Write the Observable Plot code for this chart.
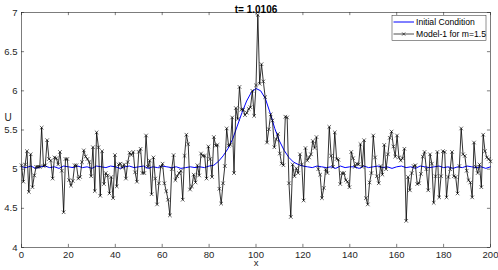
<!DOCTYPE html>
<html><head><meta charset="utf-8">
<script src="https://cdn.jsdelivr.net/npm/d3@7"></script>
<script src="https://cdn.jsdelivr.net/npm/@observablehq/plot@0.6"></script>
<style>
body{margin:0;background:#fff;}
#chart{position:relative;width:498px;height:270px;}
</style></head><body><div id="chart"></div>
<script>
const titleText = "t= 1.0106";
const xLabel = "x";
const yLabel = "U";
const seriesNames = ["Initial Condition", "Model-1 for m=1.5"];
const xTicks = [0, 20, 40, 60, 80, 100, 120, 140, 160, 180, 200];
const yTicks = [4, 4.5, 5, 5.5, 6, 6.5, 7];

// Model-1 solution, 257 grid points on [0, 200]
const modelStep = 200 / 256;
const modelU = [
5.05,4.84,5.06,5.23,4.71,5.19,4.77,4.92,5.03,5.03,
5.03,5.53,5.04,5.05,5.37,5.13,5.11,4.88,5.15,5.14,
5.06,5.22,4.98,4.45,5.13,5.13,4.86,4.79,4.85,5.05,
5.05,4.88,4.90,5.09,5.24,5.16,5.13,5.09,4.91,5.28,
4.72,5.47,5.28,4.66,5.23,4.81,4.95,4.92,4.69,4.90,
4.63,5.18,4.78,5.06,5.07,5.02,5.06,4.88,5.09,5.21,
5.18,5.22,4.96,4.84,5.22,5.26,4.95,4.95,5.43,5.03,
5.11,4.68,5.15,4.88,4.55,4.82,5.03,5.07,4.82,4.72,
4.61,4.41,
5.00,5.18,4.86,4.91,4.95,4.98,4.61,5.17,5.44,5.32,
4.74,4.78,4.93,4.83,5.05,4.92,5.20,5.17,5.17,4.88,
5.29,5.13,4.90,5.41,5.30,5.31,4.75,4.56,4.82,5.04,
5.52,5.30,5.31,5.66,4.95,5.78,5.64,6.05,5.76,5.76,
5.69,5.72,5.77,5.79,6.00,5.68,6.07,6.97,
6.09,6.34,6.12,5.92,5.34,5.51,5.70,5.62,5.28,5.38,
5.45,5.20,5.07,5.05,5.67,5.66,4.82,4.39,5.06,4.91,
5.01,4.95,5.19,5.06,4.60,5.27,5.11,5.15,5.19,5.36,
5.27,5.41,5.00,4.93,4.63,4.76,5.00,4.95,
5.54,5.17,5.03,5.47,5.13,5.12,4.81,4.95,4.95,4.86,
4.84,4.77,5.22,5.14,5.03,5.07,5.06,5.32,5.03,5.37,
4.63,4.55,4.83,4.95,5.43,5.15,4.91,4.82,5.04,4.93,
5.31,5.00,5.19,5.40,5.48,5.29,5.16,5.43,5.15,5.11,
5.14,5.26,4.34,4.90,4.73,4.95,5.04,5.05,4.81,4.82,
4.94,5.16,5.22,5.00,4.73,5.19,5.07,4.57,4.91,5.22,
4.64,4.91,5.23,5.22,4.64,4.90,5.00,5.22,4.91,4.90,
4.69,5.04,5.52,5.19,5.17,4.98,4.86,4.83,4.64,5.34,
5.03,4.95,5.06,4.77,5.44,5.23,5.15,5.13,5.10
];

// Initial condition, sampled every 2 units on [0, 200]
const initStep = 2;
const initU = [
5.03,5.02,5.04,5.01,5.03,5.04,5.02,5.03,5.01,5.04,
5.03,5.02,5.04,5.02,5.03,5.01,5.04,5.03,5.02,5.04,
5.03,5.01,5.03,5.04,5.02,5.03,5.04,5.01,5.03,5.02,
5.04,5.03,5.02,5.03,5.01,5.02,5.03,5.02,5.03,5.02,
5.04,5.05,5.10,5.17,5.26,5.38,5.55,5.72,5.87,5.98,
6.03,6.00,5.90,5.72,5.52,5.36,5.24,5.15,5.09,5.06,
5.04,
5.03,5.02,5.04,5.03,5.02,5.03,5.01,5.04,5.02,5.03,
5.03,5.01,5.04,5.02,5.03,5.04,5.02,5.03,5.01,5.03,
5.04,5.02,5.03,5.01,5.04,5.03,5.02,5.03,5.04,5.02,
5.03,5.01,5.03,5.02,5.04,5.03,5.02,5.03,5.01,5.03
];

const modelData = modelU.map((u, i) => ({x: i * modelStep, u}));
const initData = initU.map((u, i) => ({x: i * initStep, u}));

const axisColor = "#262626";
const font = "'Liberation Sans', Arial, Helvetica, sans-serif";
const tickLenY = 0.04;   // in y units (~3px)
const tickLenX = 1.3;    // in x units (~3px)

const chart = Plot.plot({
  width: 498, height: 270,
  marginLeft: 21, marginRight: 8, marginTop: 12, marginBottom: 23,
  x: {domain: [0, 200]},
  y: {domain: [4, 7]},
  style: {fontFamily: font, fontSize: "9.5px", color: axisColor, background: "white"},
  marks: [
    Plot.axisX(xTicks, {anchor: "bottom", tickSize: 0, tickPadding: 3.5, label: null, fill: axisColor, fontSize: 9.5}),
    Plot.axisY(yTicks, {anchor: "left", tickSize: 0, tickPadding: 4, label: null, fill: axisColor, fontSize: 9.5,
      tickFormat: d => String(d)}),
    Plot.ruleX(xTicks, {x: d => d, y1: 4, y2: 4 + tickLenY, stroke: axisColor, strokeWidth: 0.6}),
    Plot.ruleX(xTicks, {x: d => d, y1: 7, y2: 7 - tickLenY, stroke: axisColor, strokeWidth: 0.6}),
    Plot.ruleY(yTicks, {y: d => d, x1: 0, x2: tickLenX, stroke: axisColor, strokeWidth: 0.6}),
    Plot.ruleY(yTicks, {y: d => d, x1: 200, x2: 200 - tickLenX, stroke: axisColor, strokeWidth: 0.6}),
    Plot.line(initData, {x: "x", y: "u", stroke: "#0000ff", strokeWidth: 1}),
    Plot.line(modelData, {x: "x", y: "u", stroke: "#000", strokeWidth: 0.8}),
    Plot.dot(modelData, {x: "x", y: "u", symbol: "times", r: 1.8, stroke: "#000", strokeWidth: 0.6}),
    Plot.frame({stroke: axisColor, strokeWidth: 0.6}),
    Plot.text([titleText], {frameAnchor: "top", dy: -6.5, fontWeight: "bold", fontSize: 10, fill: "#000"}),
    Plot.text([xLabel], {frameAnchor: "bottom", dy: 18, fontSize: 9.5, fill: axisColor}),
    Plot.text([yLabel], {frameAnchor: "left", dx: -17, dy: -12.5, fontSize: 10, fill: axisColor})
  ]
});
document.getElementById("chart").appendChild(chart);

// Legend box (top-right inside frame)
const svg = d3.select(chart);
const lg = {right: 486, top: 15.5, w: 94, h: 25, fs: 8.6};
const g = svg.append("g").attr("font-family", font).attr("font-size", lg.fs)
  .attr("text-anchor", "start");
const x0 = lg.right - lg.w;
g.append("rect").attr("x", x0).attr("y", lg.top).attr("width", lg.w).attr("height", lg.h)
  .attr("fill", "white").attr("stroke", axisColor).attr("stroke-width", 0.5);
const rows = [
  {name: seriesNames[0], color: "#0000ff", marker: false},
  {name: seriesNames[1], color: "#000", marker: true}
];
rows.forEach((r, i) => {
  const cy = lg.top + 6.5 + i * 12;
  g.append("line").attr("x1", x0 + 1.5).attr("x2", x0 + 22).attr("y1", cy).attr("y2", cy)
    .attr("stroke", r.color).attr("stroke-width", r.marker ? 0.7 : 1);
  if (r.marker) {
    const mx = x0 + 11.7, s = 1.6;
    g.append("path").attr("d", `M${mx-s},${cy-s}L${mx+s},${cy+s}M${mx-s},${cy+s}L${mx+s},${cy-s}`)
      .attr("stroke", "#000").attr("stroke-width", 0.6);
  }
  g.append("text").attr("x", x0 + 24).attr("y", cy).attr("dy", "0.34em").attr("fill", "#000")
    .attr("text-anchor", "start").text(r.name);
});
</script>
</body></html>
